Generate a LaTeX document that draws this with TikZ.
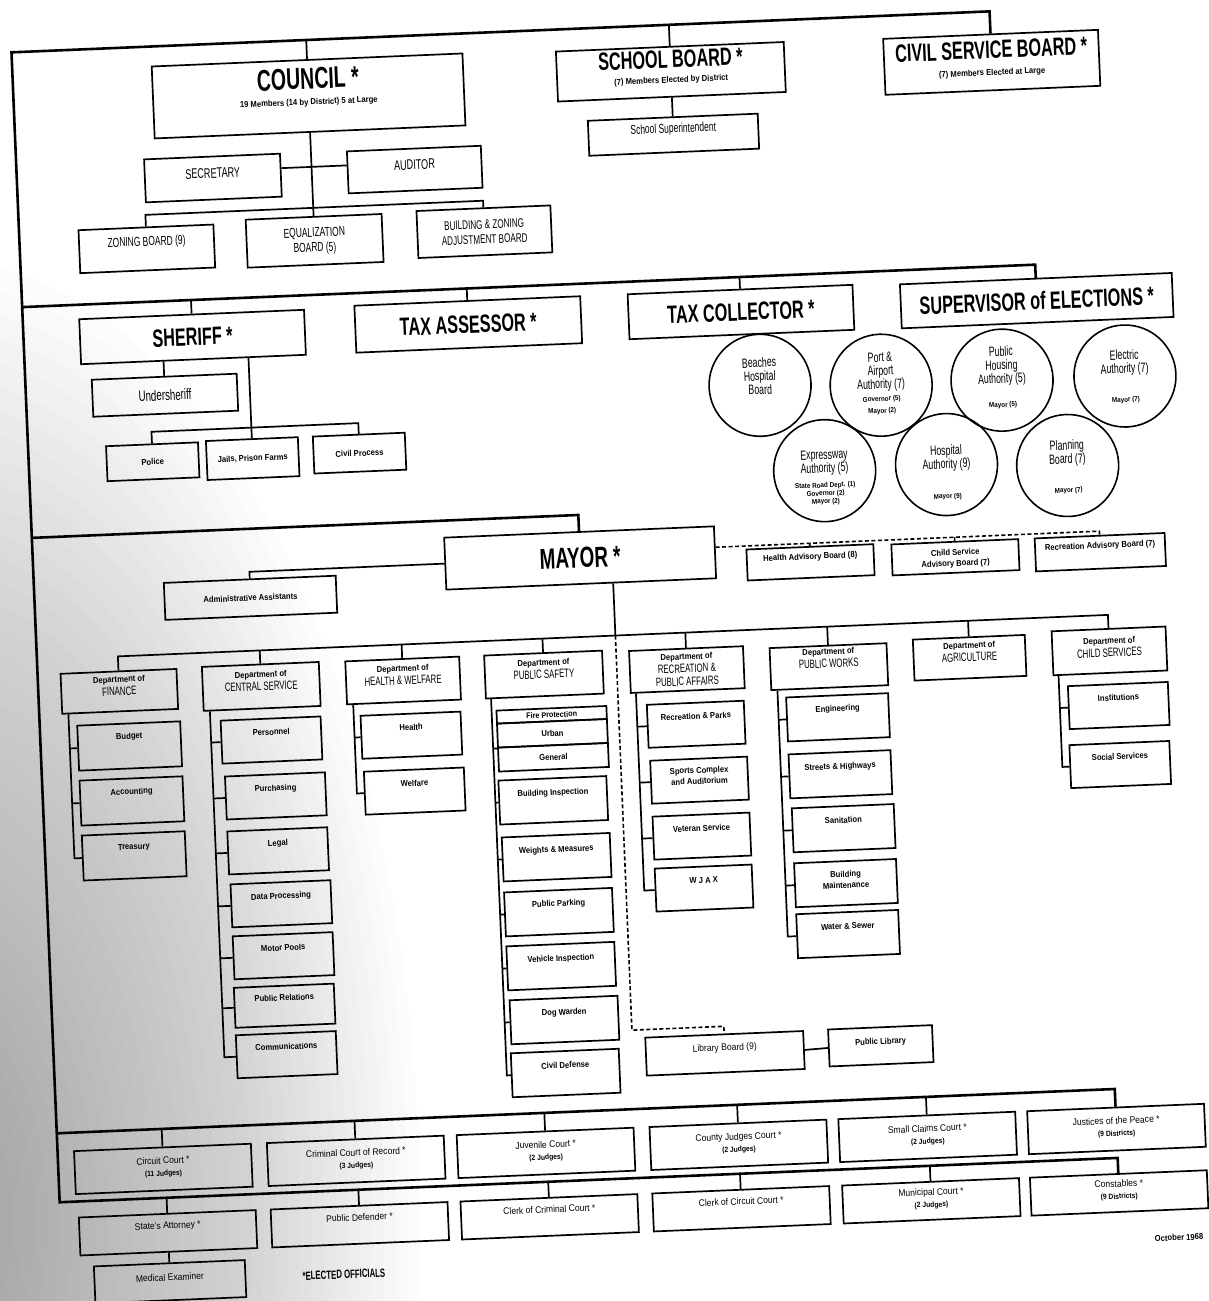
\documentclass[tikz,border=0pt]{standalone}
\usepackage{fontspec}
\setmainfont{Liberation Sans}[FakeStretch=0.9]
\newfontfamily\condfont{Liberation Sans}[FakeStretch=0.65]

\newcommand{\headfont}{\condfont\bfseries\fontsize{25}{12}\selectfont}
\newcommand{\notefont}{\normalfont\bfseries\fontsize{8.5}{10}\selectfont}
\newcommand{\capsfont}{\condfont\fontsize{13}{15}\selectfont}
\newcommand{\subfont}{\normalfont\bfseries\fontsize{8.5}{11}\selectfont}
\newcommand{\deptfont}{\condfont\fontsize{12}{13}\selectfont}
\newcommand{\circfont}{\condfont\fontsize{13.5}{13.5}\selectfont}
\newcommand{\tinyfont}{\normalfont\bfseries\fontsize{7}{7.5}\selectfont}
\newcommand{\courtfont}{\normalfont\fontsize{9.5}{12}\selectfont}
\newcommand{\judgefont}{\normalfont\bfseries\fontsize{7.5}{9}\selectfont}

\tikzset{
	box/.style={draw, line width=1.7pt, align=center, inner sep=0pt},
	sz/.style 2 args={minimum width=#1pt, minimum height=#2pt},
	txt/.style 2 args={text height=#1pt, text depth=#2pt},
	headbox/.style={box, font=\headfont},
	capbox/.style={box, font=\capsfont},
	smallbox/.style={box, font=\subfont},
	deptbox/.style={box, font=\deptfont, txt={8}{0}},
	subbox/.style={smallbox, sz={100}{43}, txt={0}{10}},
	boardcirc/.style={draw, circle, line width=1.6pt, minimum size=102pt, inner sep=0pt, align=center, font=\circfont},
	courtbox/.style={box, font=\courtfont, sz={177}{43}, txt={14}{0}},
	link/.style={line width=1.7pt},
	mainline/.style={line width=2.6pt},
	advline/.style={line width=1.6pt, dash pattern=on 4pt off 2.5pt},
}

\begin{document}
\begin{tikzpicture}[x=1pt, y=-1pt]
	\useasboundingbox (0,0) rectangle (1209,1301);
	% scanner shadow on the left edge
	\foreach \k in {1,...,40}
		\fill[black, opacity=0.011] (-60,1220) ellipse ({12*\k} and {24*\k});
	\begin{scope}[rotate around={2.4:(605,650)}, transform shape]

	% council, school board, civil service
	\node[headbox, sz={311}{72}, txt={18}{0}] (council) at (332,84)%
		{{\fontsize{30}{30}\selectfont COUNCIL *}\\[4pt]{\notefont 19 Members (14 by District) 5 at Large}};
	\node[headbox, sz={228}{50}, txt={22}{0}] (school) at (695,75)%
		{SCHOOL BOARD *\\[3pt]{\notefont (7) Members Elected by District}};
	\node[headbox, sz={215}{56}, txt={26}{0}] (civil) at (1016,79)%
		{CIVIL SERVICE BOARD *\\[5pt]{\notefont (7) Members Elected at Large}};
	\node[capbox, sz={170}{35}, txt={0}{4}] (supt) at (695,138) {School Superintendent};
	\node[capbox, font=\capsfont\fontsize{14}{15}\selectfont, sz={136}{43}, txt={0}{0}] (sec) at (233,162) {SECRETARY};
	\node[capbox, font=\capsfont\fontsize{14}{15}\selectfont, sz={134}{42}, txt={0}{0}] (aud) at (435,162) {AUDITOR};
	\node[capbox, sz={135}{43}, txt={0}{6}] (zoning) at (164,230) {ZONING BOARD (9)};
	\node[capbox, sz={136}{48}, txt={22}{0}] (equal) at (332,229) {EQUALIZATION\\BOARD (5)};
	\node[capbox, font=\capsfont\fontsize{12.5}{15}\selectfont, sz={134}{47}, txt={24}{0}] (bza) at (502,227)%
		{BUILDING \& ZONING\\ADJUSTMENT BOARD};

	% sheriff and the other elected officers
	\node[headbox, sz={225}{45}] (sheriff) at (206,320) {SHERIFF *};
	\node[headbox, sz={226}{47}] (taxa) at (482,319) {TAX ASSESSOR *};
	\node[headbox, sz={225}{45}] (taxc) at (755,318) {TAX COLLECTOR *};
	\node[headbox, sz={272}{44}] (supv) at (1051,319) {SUPERVISOR of ELECTIONS *};
	\node[capbox, font=\capsfont\fontsize{15}{17}\selectfont, sz={145}{37}] (usher) at (176,377) {Undersheriff};
	\node[smallbox, sz={92}{35}] (police) at (161,443) {Police};
	\node[smallbox, sz={92}{39}] (jails) at (261,444) {Jails, Prison Farms};
	\node[smallbox, sz={92}{37}] (civproc) at (368,443) {Civil Process};

	% authorities
	\node[boardcirc, txt={18}{0}] (beach) at (771,392) {Beaches\\Hospital\\Board};
	\node[boardcirc, txt={56}{0}] (port) at (892,397)%
		{Port \&\\Airport\\Authority (7)\\[-1pt]{\tinyfont Governor (5)}\\[-1.5pt]{\tinyfont Mayor (2)}};
	\node[boardcirc, txt={54}{0}] (housing) at (1013,397)%
		{Public\\Housing\\Authority (5)\\[10.5pt]{\tinyfont Mayor (5)}};
	\node[boardcirc, txt={52}{0}] (electric) at (1136,398)%
		{Electric\\Authority (7)\\[15.5pt]{\tinyfont Mayor (7)}};
	\node[boardcirc, txt={66}{0}] (express) at (832,480)%
		{Expressway\\Authority (5)\\[1.5pt]{\tinyfont State Road Dept. (1)}\\[-5.5pt]{\tinyfont Governor (2)}\\[-5.5pt]{\tinyfont Mayor (2)}};
	\node[boardcirc, txt={68}{0}] (hosp) at (954,479)%
		{Hospital\\Authority (9)\\[16.5pt]{\tinyfont Mayor (9)}};
	\node[boardcirc, txt={54}{0}] (plan) at (1075,485)%
		{Planning\\Board (7)\\[15.5pt]{\tinyfont Mayor (7)}};

	% mayor
	\node[headbox, font=\headfont\fontsize{29}{12}\selectfont, sz={270}{52}] (mayor) at (584,557) {MAYOR *};
	\node[smallbox, sz={172}{37}] (admin) at (253,583) {Administrative Assistants};
	\node[smallbox, sz={127}{31}, txt={0}{6}] (healthadv) at (814,571) {Health Advisory Board (8)};
	\node[smallbox, sz={127}{31}, txt={18}{0}] (childadv) at (959,572) {Child Service\\Advisory Board (7)};
	\node[smallbox, sz={130}{33}, txt={0}{8}] (recadv) at (1104,573) {Recreation Advisory Board (7)};

	% departments
	\node[deptbox, sz={116}{40}] (finance) at (118,671) {{\notefont Department of}\\FINANCE};
	\node[deptbox, sz={117}{44}] (central) at (260,672) {{\notefont Department of}\\CENTRAL SERVICE};
	\node[deptbox, sz={114}{43}] (welfare) at (402,672) {{\notefont Department of}\\HEALTH \& WELFARE};
	\node[deptbox, sz={118}{43}] (safety) at (543,672) {{\notefont Department of}\\PUBLIC SAFETY};
	\node[deptbox, sz={114}{42}, txt={32}{0}] (recr) at (686,673) {{\notefont Department of}\\RECREATION \&\\PUBLIC AFFAIRS};
	\node[deptbox, sz={117}{42}, txt={2}{0}] (works) at (828,676) {{\notefont Department of}\\PUBLIC WORKS};
	\node[deptbox, sz={112}{41}, txt={7}{0}] (agri) at (969,673) {{\notefont Department of}\\AGRICULTURE};
	\node[deptbox, sz={114}{44}, txt={12}{0}] (childsvc) at (1109,672) {{\notefont Department of}\\CHILD SERVICES};

	\node[subbox, sz={103}{45}, txt={0}{14}] (budget) at (126,726) {Budget};
	\node[subbox, sz={103}{45}, txt={0}{13}] (accounting) at (126,781) {Accounting};
	\node[subbox, sz={103}{45}, txt={0}{13}] (treasury) at (126,836) {Treasury};

	\node[subbox] (personnel) at (268,726) {Personnel};
	\node[subbox] (purchasing) at (270,782) {Purchasing};
	\node[subbox] (legal) at (270,837) {Legal};
	\node[subbox] (dataproc) at (271,890) {Data Processing};
	\node[subbox] (motor) at (271,942) {Motor Pools};
	\node[subbox, sz={100}{40}] (pubrel) at (270,992) {Public Relations};
	\node[subbox] (comms) at (270,1041) {Communications};

	\node[subbox] (health) at (408,727) {Health};
	\node[subbox] (welf) at (409,783) {Welfare};

	\node[smallbox, font=\subfont\fontsize{8}{9}\selectfont, sz={110}{13}] (fire) at (549,712.5) {Fire Protection};
	\node[smallbox, sz={110}{24}] (urban) at (549,731) {Urban};
	\node[smallbox, sz={110}{24}] (general) at (549,755) {General};
	\node[subbox, sz={108}{44}] (binsp) at (547,798) {Building Inspection};
	\node[subbox, sz={108}{44}] (weights) at (548,855) {Weights \& Measures};
	\node[subbox, sz={108}{44}, txt={0}{12}] (parking) at (548,910) {Public Parking};
	\node[subbox, sz={108}{44}] (vehicle) at (548,964) {Vehicle Inspection};
	\node[subbox, sz={108}{44}] (dog) at (549,1018) {Dog Warden};
	\node[subbox, sz={108}{44}] (civdef) at (548,1071) {Civil Defense};

	\node[subbox, sz={97}{43}] (recpark) at (693,728) {Recreation \& Parks};
	\node[subbox, sz={97}{43}, txt={8}{0}] (sports) at (694,784) {Sports Complex\\and Auditorium};
	\node[subbox, sz={97}{43}] (veteran) at (694,840) {Veteran Service};
	\node[subbox, sz={97}{43}] (wjax) at (694,892) {W J A X};

	\node[subbox, sz={102}{44}, txt={0}{12}] (eng) at (835,727) {Engineering};
	\node[subbox, sz={102}{44}] (streets) at (835,784) {Streets \& Highways};
	\node[subbox, sz={102}{44}] (sanit) at (836,838) {Sanitation};
	\node[subbox, sz={102}{44}, txt={10}{0}] (bldgm) at (836,893) {Building\\Maintenance};
	\node[subbox, sz={102}{44}] (water) at (836,944) {Water \& Sewer};

	\node[subbox] (inst) at (1116,727) {Institutions};
	\node[subbox] (social) at (1115,786) {Social Services};

	\node[box, font=\courtfont, sz={158}{38}, txt={0}{5}] (libboard) at (708,1058) {Library Board (9)};
	\node[smallbox, sz={104}{37}, txt={0}{3}] (publib) at (864,1057) {Public Library};

	% courts
	\node[courtbox] (circuit) at (142,1150) {Circuit Court *\\{\judgefont (11 Judges)}};
	\node[courtbox] (criminal) at (335,1150) {Criminal Court of Record *\\{\judgefont (3 Judges)}};
	\node[courtbox] (juvenile) at (525,1150) {Juvenile Court *\\{\judgefont (2 Judges)}};
	\node[courtbox] (county) at (718,1150) {County Judges Court *\\{\judgefont (2 Judges)}};
	\node[courtbox] (claims) at (907,1150) {Small Claims Court *\\{\judgefont (2 Judges)}};
	\node[courtbox] (justice) at (1096,1150) {Justices of the Peace *\\{\judgefont (9 Districts)}};

	\node[courtbox, sz={177}{38}, txt={0}{8}] (sa) at (144,1214) {State's Attorney *};
	\node[courtbox, sz={177}{38}, txt={0}{8}] (defender) at (336,1214) {Public Defender *};
	\node[courtbox, sz={177}{38}, txt={0}{8}] (clerkcrim) at (526,1214) {Clerk of Criminal Court *};
	\node[courtbox, sz={177}{38}, txt={0}{8}] (clerkcirc) at (718,1214) {Clerk of Circuit Court *};
	\node[courtbox, sz={177}{38}, txt={13}{0}] (municipal) at (908,1214) {Municipal Court *\\{\judgefont (2 Judges)}};
	\node[courtbox, sz={177}{38}, txt={12}{0}] (const) at (1096,1214) {Constables *\\{\judgefont (9 Districts)}};
	\node[courtbox, sz={151}{37}, txt={0}{2}] (medex) at (144,1263) {Medical Examiner};

	\node[font=\condfont\bfseries\fontsize{12}{12}\selectfont] (elect) at (318,1263) {*ELECTED OFFICIALS};
	\node[font=\notefont] (date) at (1154,1261) {October 1968};

	% frame and branch lines
	\coordinate (ftl) at (37,28);
	\coordinate (fbl) at (37,1179);
	\coordinate (band2) at (37,283);
	\coordinate (band3) at (37,514);
	\coordinate (band4) at (37,1110);
	\coordinate (cjoin) at (332,196);
	\coordinate (sjoin) at (261,413);
	\coordinate (dj) at (616,636);
	\coordinate (libturn) at (616,1031);
	\coordinate (advj) at ([yshift=5pt]mayor.east);

	\draw[mainline] (civil.north) |- (ftl) -- (fbl) -| (const.north);
	\draw[link] (council.north) -- (council.north |- ftl);
	\draw[link] (school.north) -- (school.north |- ftl);
	\draw[link] (school.south) -- (supt.north);
	\draw[link] (council.south) -- (equal.north);
	\draw[link] (zoning.north) |- (cjoin) -| (bza.north);
	\draw[link] ([yshift=7pt]sec.east) -- ([yshift=7pt]aud.west);

	\draw[mainline] (band2) -| (supv.north);
	\foreach \n in {sheriff,taxa,taxc} \draw[link] (\n.north) -- (\n.north |- band2);
	\draw[link] (sheriff.south -| usher.north) -- (usher.north);
	\draw[link] (sheriff.south -| sjoin) -- (jails.north);
	\draw[link] (police.north) |- (sjoin) -| (civproc.north);

	\draw[mainline] (band3) -| (mayor.north);
	\draw[link] (mayor.west) -| (admin.north);
	\draw[advline] (advj) -| (recadv.north);
	\foreach \n in {healthadv,childadv} \draw[advline] (\n.north) -- (\n.north |- advj);
	\draw[link] (mayor.south -| dj) -- (dj);
	\draw[link] (finance.north) |- (dj) -| (childsvc.north);
	\foreach \n in {central,welfare,safety,recr,works,agri} \draw[link] (\n.north) -- (\n.north |- dj);
	\draw[advline] (dj) -- (libturn) -| (libboard.north);
	\draw[link] (libboard.east) -- (publib.west);

	% department stems
	\coordinate (finS) at ([xshift=7pt]finance.south west);
	\draw[link] (finS) |- (treasury.west);
	\foreach \n in {budget,accounting} \draw[link] (\n.west) -- (\n.west -| finS);
	\coordinate (cenS) at ([xshift=7pt]central.south west);
	\draw[link] (cenS) |- (comms.west);
	\foreach \n in {personnel,purchasing,legal,dataproc,motor,pubrel} \draw[link] (\n.west) -- (\n.west -| cenS);
	\coordinate (welS) at ([xshift=7pt]welfare.south west);
	\draw[link] (welS) |- (welf.west);
	\draw[link] (health.west) -- (health.west -| welS);
	\coordinate (safS) at ([xshift=6pt]safety.south west);
	\draw[link] (safS) |- (civdef.west);
	\draw[link] (urban.south west) -- (urban.south west -| safS);
	\foreach \n in {binsp,weights,parking,vehicle,dog} \draw[link] (\n.west) -- (\n.west -| safS);
	\coordinate (recS) at ([xshift=6pt]recr.south west);
	\draw[link] (recS) |- (wjax.west);
	\foreach \n in {recpark,sports,veteran} \draw[link] (\n.west) -- (\n.west -| recS);
	\coordinate (wrkS) at ([xshift=7pt]works.south west);
	\draw[link] (wrkS) |- (water.west);
	\foreach \n in {eng,streets,sanit,bldgm} \draw[link] (\n.west) -- (\n.west -| wrkS);
	\coordinate (chdS) at ([xshift=6pt]childsvc.south west);
	\draw[link] (chdS) |- (social.west);
	\draw[link] (inst.west) -- (inst.west -| chdS);

	% courts
	\draw[mainline] (band4) -| (justice.north);
	\foreach \n in {circuit,criminal,juvenile,county,claims} \draw[link] (\n.north) -- (\n.north |- band4);
	\foreach \n in {sa,defender,clerkcrim,clerkcirc,municipal} \draw[link] (\n.north) -- (\n.north |- fbl);
	\draw[link] (sa.south) -- (medex.north);

	\end{scope}
\end{tikzpicture}
\end{document}
